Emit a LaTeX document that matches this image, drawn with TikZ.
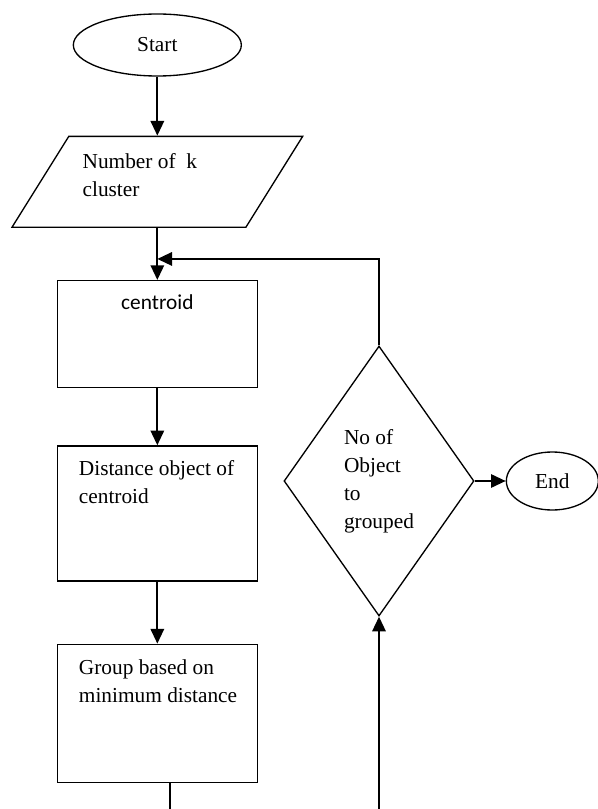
\documentclass[tikz,border=0pt]{standalone}
\usepackage{fontspec}
\setmainfont{Liberation Serif}
\newfontfamily\calibri{Carlito}
\usetikzlibrary{arrows.meta, positioning, shapes.geometric}

\newcommand{\flowfont}{\fontsize{16}{21}\selectfont}

\begin{document}
\begin{tikzpicture}[
    node distance=40pt,
    term/.style={ellipse, draw=black, line width=1pt, inner sep=0pt, font=\flowfont},
    io/.style={trapezium, trapezium left angle=58, trapezium right angle=122,
               draw=black, line width=1pt, inner xsep=66.4pt, inner ysep=34.1pt},
    procbox/.style={rectangle, draw=black, line width=1pt, minimum width=150pt},
    decision/.style={diamond, draw=black, line width=1pt, aspect=0.7, inner sep=0pt,
                     minimum width=142.5pt, minimum height=202.5pt,
                     align=left, font=\flowfont},
    boxtext/.style={anchor=base west, inner sep=0pt, align=left, font=\flowfont},
    arrow/.style={-{Triangle[length=11pt, width=10pt]}, line width=1.5pt}
]
    \useasboundingbox (0,0) rectangle (448.5pt,-606.75pt);
    \clip (0,0) rectangle (448.5pt,-606.75pt);

    \node[term, minimum width=126pt, minimum height=46.5pt] (start) at (118pt,-33.75pt) {Start};
    \node[io] (input) [below=44.25pt of start] {};
    % base anchor of a two-line text sits on its last line
    \node[boxtext] (input-txt) at ([xshift=-56.25pt, yshift=-10.9pt]input.center)
        {Number of\ \ k\\cluster};

    \node[procbox, minimum height=80.25pt] (centroid) [below=39pt of input] {};
    \node[anchor=base, inner sep=0pt, font=\calibri\flowfont] (centroid-txt)
        at ([yshift=-22.5pt]centroid.north) {centroid};

    \node[procbox, minimum height=101.25pt] (distance) [below=42.75pt of centroid] {};
    \node[boxtext] (distance-txt) at ([xshift=16.5pt, yshift=-43.5pt]distance.north west)
        {Distance object of\\centroid};

    \node[procbox, minimum height=103.5pt] (group) [below=46.5pt of distance] {};
    \node[boxtext] (group-txt) at ([xshift=16.5pt, yshift=-44.25pt]group.north west)
        {Group based on\\minimum distance};

    \node[decision] (decision) at (284.25pt,-360.75pt) {No of\\Object\\to\\grouped};
    \node[term, minimum width=69pt, minimum height=43.5pt] (stop) [right=23.25pt of decision] {End};

    \coordinate (merge) at ([yshift=-23.25pt]input.south);

    \draw[arrow] (start) -- (input);
    \draw[arrow] (input) -- (centroid);
    \draw[arrow] (decision.north) |- (merge);
    \draw[arrow] (centroid) -- (distance);
    \draw[arrow] (distance) -- (group);
    \draw[arrow] (decision) -- (stop);
    \draw[arrow] ([xshift=9.75pt]group.south) -- ++(0,-30pt) -| (decision.south);
\end{tikzpicture}
\end{document}
